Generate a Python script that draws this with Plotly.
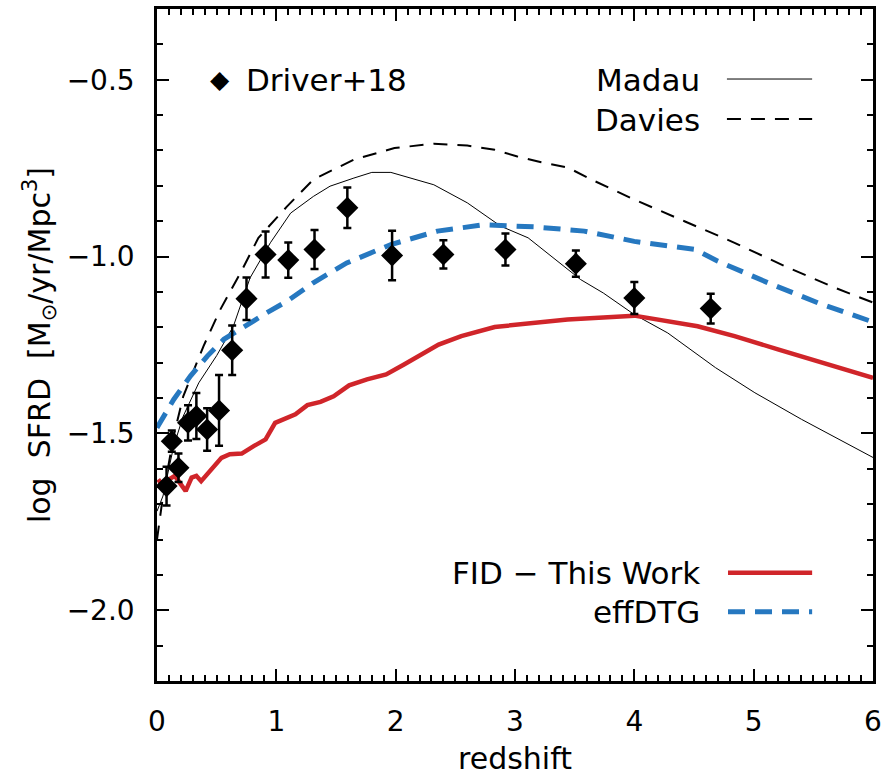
import plotly.graph_objects as go

# ---- data ----
driver_z = [0.08, 0.124, 0.18, 0.26, 0.33, 0.42, 0.52, 0.63, 0.75, 0.91, 1.10, 1.32, 1.595, 1.97, 2.40, 2.92, 3.51, 4.0, 4.64]
driver_y = [-1.649, -1.522, -1.597, -1.47, -1.451, -1.489, -1.435, -1.265, -1.119, -0.994, -1.01, -0.98, -0.862, -0.997, -0.994, -0.98, -1.02, -1.117, -1.147]
driver_err = [0.055, 0.03, 0.04, 0.05, 0.065, 0.06, 0.1, 0.07, 0.06, 0.065, 0.05, 0.055, 0.057, 0.07, 0.04, 0.045, 0.037, 0.045, 0.042]

madau_z = [0, 0.05, 0.14, 0.22, 0.35, 0.5, 0.64, 0.78, 0.95, 1.12, 1.31, 1.45, 1.65, 1.8, 1.96, 2.1, 2.32, 2.6, 2.88, 3.11, 3.3, 3.55, 3.74, 4.0, 4.28, 4.68, 5.01, 5.4, 6.0]
madau_y = [-1.72, -1.677, -1.536, -1.451, -1.357, -1.28, -1.197, -1.06, -0.961, -0.877, -0.83, -0.801, -0.778, -0.762, -0.762, -0.775, -0.797, -0.848, -0.914, -0.947, -0.999, -1.065, -1.103, -1.164, -1.216, -1.314, -1.385, -1.46, -1.568]

davies_z = [0, 0.05, 0.14, 0.22, 0.39, 0.53, 0.70, 0.85, 1.09, 1.31, 1.65, 1.99, 2.32, 2.6, 2.83, 3.02, 3.22, 3.44, 3.67, 4.0, 4.42, 4.84, 5.26, 5.68, 6.0]
davies_y = [-1.80, -1.677, -1.507, -1.395, -1.253, -1.15, -1.046, -0.947, -0.858, -0.782, -0.726, -0.693, -0.681, -0.686, -0.698, -0.717, -0.733, -0.748, -0.787, -0.839, -0.9, -0.961, -1.027, -1.088, -1.13]

effdtg_z = [0, 0.14, 0.28, 0.42, 0.56, 0.73, 0.92, 1.09, 1.31, 1.59, 1.96, 2.35, 2.74, 3.16, 3.58, 4.0, 4.51, 4.70, 5.12, 5.54, 6.0]
effdtg_y = [-1.484, -1.404, -1.338, -1.282, -1.234, -1.197, -1.159, -1.126, -1.074, -1.018, -0.966, -0.928, -0.91, -0.916, -0.928, -0.957, -0.98, -1.013, -1.074, -1.131, -1.185]

fid_z = [0.01, 0.05, 0.1, 0.15, 0.19, 0.24, 0.29, 0.33, 0.37, 0.46, 0.54, 0.61, 0.71, 0.81, 0.91, 0.99, 1.06, 1.16, 1.26, 1.37, 1.48, 1.61, 1.76, 1.92, 2.07, 2.24, 2.36, 2.55, 2.83, 3.44, 4.0, 4.53, 4.84, 5.21, 5.68, 6.0]
fid_y = [-1.63, -1.649, -1.63, -1.62, -1.639, -1.663, -1.625, -1.62, -1.635, -1.602, -1.569, -1.559, -1.557, -1.536, -1.517, -1.47, -1.459, -1.446, -1.42, -1.411, -1.395, -1.364, -1.347, -1.333, -1.305, -1.272, -1.249, -1.225, -1.199, -1.178, -1.167, -1.197, -1.225, -1.263, -1.31, -1.343]

x_ticks = [0, 1, 2, 3, 4, 5, 6]
y_ticks = [-2.0, -1.5, -1.0, -0.5]
y_ticklabels = ["\u22122.0", "\u22121.5", "\u22121.0", "\u22120.5"]

RED = "#d0252a"
BLUE = "#2678c0"
FONT = "DejaVu Sans"
NB = "\u00a0"

fig = go.Figure()
fig.add_trace(go.Scatter(x=madau_z, y=madau_y, mode="lines",
                         line=dict(color="black", width=1), showlegend=False))
fig.add_trace(go.Scatter(x=davies_z, y=davies_y, mode="lines",
                         line=dict(color="black", width=2, dash="14px,10px"), showlegend=False))
fig.add_trace(go.Scatter(x=effdtg_z, y=effdtg_y, mode="lines",
                         line=dict(color=BLUE, width=5, dash="17px,10px"), showlegend=False))
fig.add_trace(go.Scatter(x=fid_z, y=fid_y, mode="lines",
                         line=dict(color=RED, width=4.5), showlegend=False))
fig.add_trace(go.Scatter(x=driver_z, y=driver_y, mode="markers",
                         marker=dict(symbol="diamond", size=17, color="black"),
                         error_y=dict(type="data", array=driver_err, symmetric=True,
                                      color="black", thickness=2.5, width=4),
                         showlegend=False))

# legend (drawn manually, as in the reference)
def leg_line(x0, x1, y, color, width, dash):
    fig.add_shape(type="line", xref="paper", yref="paper", x0=x0, x1=x1, y0=y, y1=y,
                  line=dict(color=color, width=width, dash=dash))

leg_line(0.796, 0.915, 0.8958, "black", 1, "solid")
leg_line(0.796, 0.915, 0.8363, "black", 2, "14px,10px")
leg_line(0.7975, 0.915, 0.1612, RED, 4.5, "solid")
leg_line(0.7975, 0.915, 0.1031, BLUE, 5, "17px,10px")

ann_font = dict(family=FONT, size=31, color="black")
fig.add_annotation(xref="paper", yref="paper", x=0.0882, y=0.8945, text="\u25c6",
                   showarrow=False, font=dict(family=FONT, size=25, color="black"),
                   xanchor="center", yanchor="middle")
fig.add_annotation(xref="paper", yref="paper", x=0.122, y=0.8945, text="Driver+18",
                   showarrow=False, font=ann_font, xanchor="left", yanchor="middle")
fig.add_annotation(xref="paper", yref="paper", x=0.761, y=0.8943, text="Madau",
                   showarrow=False, font=ann_font, xanchor="right", yanchor="middle")
fig.add_annotation(xref="paper", yref="paper", x=0.761, y=0.8348, text="Davies",
                   showarrow=False, font=ann_font, xanchor="right", yanchor="middle")
fig.add_annotation(xref="paper", yref="paper", x=0.761, y=0.1612, text="FID \u2212 This Work",
                   showarrow=False, font=ann_font, xanchor="right", yanchor="middle")
fig.add_annotation(xref="paper", yref="paper", x=0.761, y=0.1031, text="effDTG",
                   showarrow=False, font=ann_font, xanchor="right", yanchor="middle")

axis_common = dict(showgrid=False, zeroline=False, showline=True, linecolor="black",
                   linewidth=2.5, mirror="allticks", ticks="inside", ticklen=12,
                   tickwidth=2, tickcolor="black", automargin=False,
                   tickfont=dict(family=FONT, size=28, color="black"))

fig.update_xaxes(range=[0, 6], tickvals=x_ticks, ticktext=[str(v) for v in x_ticks],
                 minor=dict(dtick=0.1, ticks="inside", ticklen=6, tickwidth=1.5, tickcolor="black"),
                 title=dict(text="redshift", font=dict(family=FONT, size=30, color="black"), standoff=14),
                 ticklabelstandoff=14,
                 **axis_common)
fig.update_yaxes(range=[-2.2, -0.3], tickvals=y_ticks, ticktext=y_ticklabels,
                 minor=dict(dtick=0.1, ticks="inside", ticklen=6, tickwidth=1.5, tickcolor="black"),
                 title=dict(text="log" + NB * 2 + "SFRD" + NB * 2 + "[M<sub>\u2299</sub>/yr/Mpc<sup>3</sup>]",
                            font=dict(family=FONT, size=30, color="black"), standoff=8),
                 ticklabelstandoff=14,
                 **axis_common)

fig.update_layout(width=885, height=776, margin=dict(l=157, r=12, t=9, b=95),
                  plot_bgcolor="white", paper_bgcolor="white", showlegend=False)

fig.write_html("out.html")
